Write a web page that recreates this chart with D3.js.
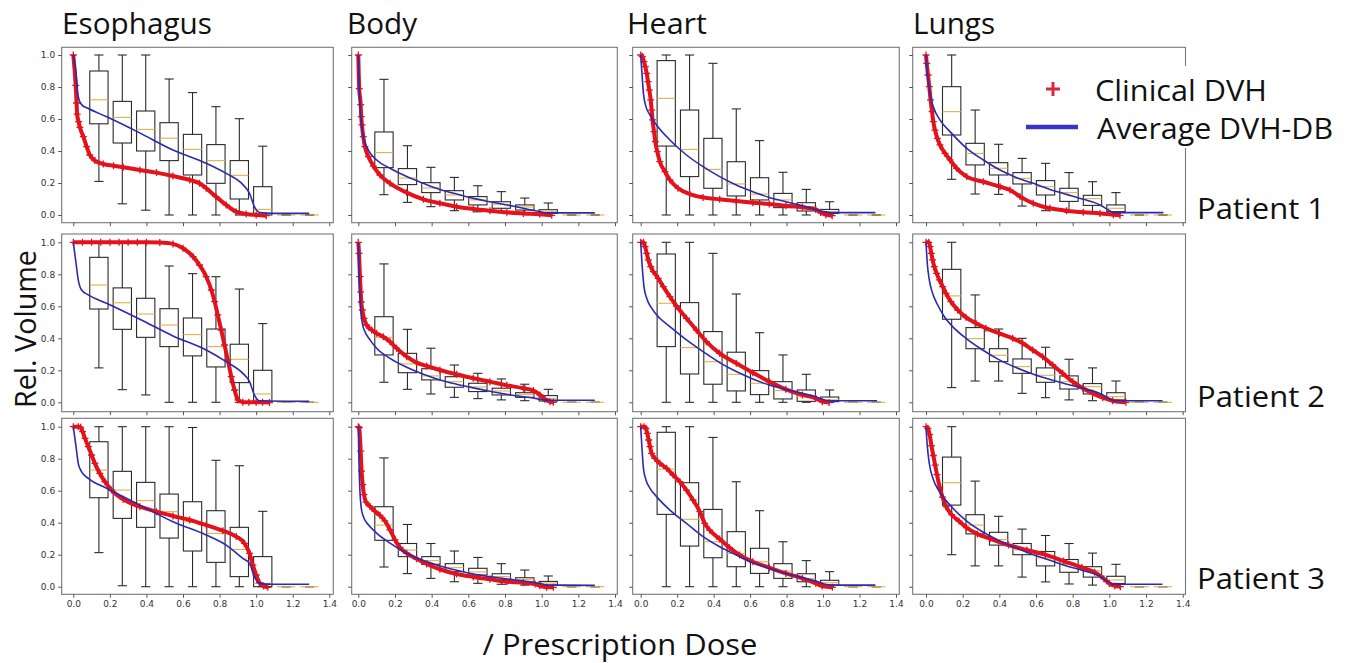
<!DOCTYPE html>
<html lang="en">
<head>
<meta charset="UTF-8">
<title>DVH comparison</title>
<script src="https://d3js.org/d3.v7.min.js"></script>
<style>
  body { margin: 0; background: #fff; }
  svg { display: block; }
  .tick text { font-family: "DejaVu Sans", sans-serif; font-size: 9px; fill: #333; }
  .tick line { stroke: #555; }
  .big { font-family: "Open Sans", sans-serif; font-size: 29px; fill: #111; }
</style>
</head>
<body>
<svg width="1352" height="663"></svg>
<script>
const organs = ["Esophagus", "Body", "Heart", "Lungs"];
const patients = ["Patient 1", "Patient 2", "Patient 3"];
const xTicks = [0, 0.2, 0.4, 0.6, 0.8, 1.0, 1.2, 1.4];
const yTicks = [0, 0.2, 0.4, 0.6, 0.8, 1.0];
const boxPositions = [0.14, 0.268, 0.396, 0.524, 0.652, 0.78, 0.908, 1.036, 1.164, 1.292];

// boxes: [low whisker, q1, median, q3, high whisker]
const esoP1Boxes = [[0.21,0.57,0.72,0.90,1.0],[0.07,0.45,0.61,0.71,1.0],[0.03,0.40,0.535,0.65,1.0],[0,0.34,0.48,0.577,0.85],[0,0.25,0.41,0.504,0.765],[0,0.198,0.34,0.44,0.677],[0,0.10,0.248,0.34,0.602],[0,0,0.035,0.177,0.43],[0,0,0,0,0],[0,0,0,0,0]];
const esoP1Avg = [[0,1],[0.015,0.885],[0.027,0.74],[0.045,0.69],[0.08,0.667],[0.18,0.615],[0.36,0.515],[0.545,0.406],[0.727,0.323],[0.836,0.26],[0.927,0.19],[0.964,0.135],[0.99,0.052],[1.02,0.015],[1.09,0.01],[1.29,0.01]];
const esoP1Clin = [[0,1.0],[0.013,0.81],[0.018,0.70],[0.021,0.63],[0.029,0.583],[0.036,0.548],[0.055,0.49],[0.073,0.427],[0.09,0.375],[0.118,0.34],[0.164,0.319],[0.22,0.308],[0.273,0.298],[0.364,0.281],[0.455,0.265],[0.545,0.244],[0.636,0.219],[0.69,0.198],[0.727,0.167],[0.78,0.115],[0.836,0.063],[0.89,0.021],[0.945,0.006],[1.0,0],[1.055,-0.004]];

const esoP2Boxes = [[0.215,0.583,0.733,0.906,1.0],[0.079,0.456,0.622,0.715,1.0],[0.046,0.406,0.552,0.65,1.0],[0,0.348,0.483,0.585,0.852],[0,0.29,0.423,0.527,0.804],[0,0.221,0.348,0.458,0.785],[0,0.123,0.269,0.363,0.708],[0,0,0.052,0.2,0.492],[0,0,0,0,0],[0,0,0,0,0]];
const esoP2Avg = [[0,1],[0.015,0.869],[0.027,0.765],[0.045,0.702],[0.082,0.671],[0.182,0.619],[0.364,0.519],[0.545,0.415],[0.727,0.327],[0.836,0.254],[0.927,0.181],[0.964,0.129],[0.99,0.046],[1.018,0.01],[1.29,0.006]];
const esoP2Clin = [[0,1],[0.05,1],[0.1,1],[0.15,1],[0.2,1],[0.25,1],[0.3,1],[0.35,1],[0.4,1],[0.473,0.998],[0.545,0.99],[0.6,0.963],[0.655,0.91],[0.69,0.858],[0.727,0.785],[0.755,0.702],[0.773,0.629],[0.79,0.546],[0.809,0.452],[0.827,0.358],[0.845,0.265],[0.864,0.16],[0.882,0.077],[0.9,0.015],[0.927,0],[0.96,0],[1.0,0],[1.035,0],[1.073,-0.002]];

const esoP3Boxes = [[0.213,0.556,0.729,0.906,1.0],[0.006,0.427,0.604,0.721,1.0],[0,0.371,0.538,0.652,1.0],[0,0.304,0.469,0.579,1.0],[0,0.223,0.406,0.531,0.995],[0,0.152,0.333,0.475,0.79],[0,0.063,0.233,0.371,0.756],[0,0,0.021,0.188,0.471],[0,0,0,0,0],[0,0,0,0,0]];
const esoP3Avg = [[0,1],[0.015,0.875],[0.027,0.771],[0.045,0.719],[0.082,0.677],[0.182,0.615],[0.364,0.51],[0.545,0.406],[0.727,0.323],[0.836,0.26],[0.927,0.177],[0.964,0.146],[0.99,0.063],[1.018,0.021],[1.09,0.015],[1.29,0.015]];
const esoP3Clin = [[0,1],[0.027,1],[0.04,0.996],[0.051,0.969],[0.064,0.927],[0.082,0.875],[0.1,0.823],[0.118,0.771],[0.145,0.708],[0.173,0.656],[0.209,0.604],[0.273,0.546],[0.364,0.5],[0.455,0.469],[0.545,0.442],[0.636,0.417],[0.727,0.385],[0.818,0.35],[0.891,0.313],[0.936,0.271],[0.964,0.208],[0.982,0.135],[1.0,0.073],[1.018,0.025],[1.04,0.004],[1.064,-0.004]];

const bodyP1Boxes = [[0.127,0.296,0.39,0.519,0.848],[0.079,0.19,0.231,0.29,0.433],[0.052,0.14,0.169,0.202,0.298],[0.027,0.094,0.125,0.152,0.235],[0.02,0.063,0.094,0.115,0.183],[0.015,0.042,0.067,0.083,0.146],[0.01,0.031,0.05,0.063,0.106],[0.006,0.01,0.02,0.033,0.075],[0,0,0,0,0],[0,0,0,0,0]];
const bodyP1Avg = [[0,1],[0.005,0.78],[0.013,0.615],[0.027,0.49],[0.055,0.406],[0.1,0.344],[0.173,0.292],[0.264,0.24],[0.355,0.198],[0.445,0.16],[0.536,0.131],[0.627,0.104],[0.718,0.083],[0.81,0.063],[0.9,0.042],[0.99,0.021],[1.027,0.013],[1.1,0.013],[1.29,0.013]];
const bodyP1Clin = [[0,1],[0.005,0.79],[0.013,0.69],[0.016,0.615],[0.02,0.563],[0.027,0.49],[0.036,0.427],[0.055,0.365],[0.082,0.306],[0.118,0.25],[0.173,0.198],[0.264,0.14],[0.355,0.098],[0.445,0.073],[0.536,0.052],[0.627,0.038],[0.718,0.027],[0.81,0.017],[0.9,0.01],[0.99,0.004],[1.055,-0.002]];

const bodyP2Boxes = [[0.125,0.296,0.406,0.535,0.865],[0.081,0.185,0.24,0.306,0.456],[0.052,0.14,0.165,0.21,0.338],[0.031,0.094,0.129,0.16,0.233],[0.023,0.067,0.096,0.119,0.181],[0.015,0.046,0.071,0.088,0.146],[0.01,0.031,0.048,0.06,0.113],[0.006,0.008,0.025,0.042,0.081],[0,0,0,0,0],[0,0,0,0,0]];
const bodyP2Avg = [[0,1],[0.005,0.765],[0.013,0.577],[0.022,0.494],[0.036,0.442],[0.064,0.39],[0.1,0.338],[0.173,0.275],[0.264,0.219],[0.355,0.175],[0.445,0.14],[0.536,0.113],[0.627,0.09],[0.718,0.069],[0.81,0.05],[0.9,0.035],[0.973,0.023],[1.009,0.015],[1.064,0.013],[1.29,0.013]];
const bodyP2Clin = [[0,1],[0.004,0.931],[0.009,0.785],[0.013,0.69],[0.016,0.627],[0.022,0.577],[0.031,0.525],[0.045,0.483],[0.073,0.452],[0.1,0.431],[0.136,0.41],[0.173,0.379],[0.209,0.338],[0.264,0.285],[0.318,0.248],[0.373,0.227],[0.445,0.202],[0.536,0.175],[0.627,0.15],[0.718,0.129],[0.81,0.106],[0.9,0.088],[0.955,0.073],[0.991,0.046],[1.018,0.019],[1.045,0.004],[1.064,0]];

const bodyP3Boxes = [[0.123,0.29,0.385,0.5,0.805],[0.082,0.188,0.229,0.27,0.389],[0.052,0.14,0.163,0.188,0.27],[0.031,0.094,0.119,0.144,0.223],[0.021,0.073,0.092,0.115,0.183],[0.015,0.046,0.063,0.081,0.144],[0.01,0.027,0.044,0.056,0.104],[0.006,0.01,0.023,0.033,0.067],[0,0,0,0,0],[0,0,0,0,0]];
const bodyP3Avg = [[0,1],[0.004,0.764],[0.009,0.596],[0.016,0.492],[0.027,0.44],[0.055,0.387],[0.1,0.335],[0.173,0.272],[0.264,0.209],[0.355,0.163],[0.445,0.13],[0.536,0.103],[0.627,0.079],[0.718,0.063],[0.81,0.048],[0.9,0.036],[0.99,0.021],[1.027,0.01],[1.1,0.01],[1.29,0.008]];
const bodyP3Clin = [[0,1],[0.005,0.994],[0.013,0.847],[0.018,0.722],[0.024,0.638],[0.031,0.575],[0.042,0.529],[0.064,0.502],[0.091,0.471],[0.118,0.446],[0.145,0.412],[0.173,0.356],[0.2,0.293],[0.227,0.245],[0.264,0.209],[0.318,0.174],[0.373,0.142],[0.445,0.109],[0.536,0.079],[0.627,0.061],[0.718,0.046],[0.81,0.031],[0.9,0.025],[0.964,0.017],[0.99,0.006],[1.027,-0.004],[1.064,-0.004]];

const heartP1Boxes = [[0,0.431,0.729,0.965,1.0],[0,0.24,0.41,0.656,1.0],[0,0.167,0.285,0.479,0.948],[0,0.119,0.194,0.333,0.663],[0,0.094,0.131,0.233,0.465],[0,0.046,0.094,0.135,0.267],[0,0.025,0.052,0.077,0.16],[0,0.01,0.019,0.035,0.083],[0,0,0,0,0],[0,0,0,0,0]];
const heartP1Avg = [[0,1],[0.007,0.885],[0.015,0.76],[0.029,0.677],[0.051,0.625],[0.087,0.563],[0.16,0.469],[0.251,0.375],[0.342,0.302],[0.433,0.24],[0.524,0.188],[0.615,0.146],[0.705,0.11],[0.796,0.083],[0.887,0.058],[0.96,0.035],[1.005,0.021],[1.05,0.015],[1.287,0.015]];
const heartP1Clin = [[0,1],[0.009,0.99],[0.018,0.958],[0.025,0.927],[0.033,0.885],[0.04,0.833],[0.047,0.781],[0.055,0.719],[0.06,0.656],[0.065,0.594],[0.073,0.521],[0.08,0.458],[0.091,0.396],[0.105,0.333],[0.133,0.271],[0.16,0.219],[0.205,0.167],[0.269,0.131],[0.342,0.11],[0.433,0.098],[0.524,0.088],[0.615,0.077],[0.705,0.069],[0.796,0.058],[0.887,0.048],[0.96,0.035],[0.987,0.015],[1.015,0.002],[1.05,-0.004]];

const heartP2Boxes = [[0,0.348,0.619,0.927,1.0],[0,0.177,0.342,0.623,1.0],[0,0.113,0.254,0.442,0.931],[0,0.071,0.175,0.313,0.677],[0,0.048,0.119,0.198,0.435],[0,0.021,0.073,0.129,0.296],[0,0.006,0.035,0.077,0.175],[0,0.004,0.015,0.033,0.077],[0,0,0,0,0],[0,0,0,0,0]];
const heartP2Avg = [[0,1],[0.007,0.869],[0.018,0.723],[0.033,0.65],[0.06,0.588],[0.105,0.525],[0.16,0.473],[0.251,0.39],[0.342,0.317],[0.433,0.248],[0.524,0.192],[0.615,0.146],[0.705,0.108],[0.796,0.081],[0.887,0.056],[0.96,0.035],[0.996,0.019],[1.033,0.01],[1.296,0.01]];
const heartP2Clin = [[0,1],[0.015,1],[0.024,0.973],[0.033,0.931],[0.042,0.89],[0.055,0.848],[0.069,0.817],[0.096,0.775],[0.124,0.723],[0.16,0.66],[0.196,0.602],[0.251,0.525],[0.305,0.452],[0.36,0.379],[0.433,0.306],[0.524,0.244],[0.615,0.185],[0.705,0.129],[0.796,0.081],[0.887,0.046],[0.96,0.025],[0.996,0.004],[1.033,-0.002]];

const heartP3Boxes = [[0,0.452,0.735,0.965,1.0],[0,0.254,0.421,0.65,1.0],[0,0.181,0.281,0.483,0.933],[0,0.125,0.208,0.344,0.656],[0,0.083,0.156,0.24,0.475],[0,0.052,0.098,0.144,0.281],[0,0.031,0.05,0.081,0.163],[0,0.01,0.025,0.04,0.094],[0,0,0,0,0],[0,0,0,0,0]];
const heartP3Avg = [[0,1],[0.007,0.865],[0.015,0.74],[0.029,0.667],[0.051,0.615],[0.087,0.563],[0.16,0.479],[0.251,0.396],[0.342,0.313],[0.433,0.25],[0.524,0.198],[0.615,0.15],[0.705,0.115],[0.796,0.083],[0.887,0.056],[0.96,0.035],[1.005,0.017],[1.05,0.01],[1.287,0.01]];
const heartP3Clin = [[0,1],[0.018,1],[0.029,0.99],[0.036,0.958],[0.044,0.917],[0.051,0.875],[0.06,0.833],[0.078,0.802],[0.105,0.771],[0.142,0.74],[0.178,0.698],[0.215,0.656],[0.251,0.604],[0.287,0.542],[0.324,0.469],[0.351,0.396],[0.378,0.354],[0.433,0.298],[0.487,0.244],[0.542,0.198],[0.615,0.156],[0.705,0.119],[0.796,0.083],[0.887,0.052],[0.96,0.021],[0.996,0.004],[1.051,-0.004]];

const lungsP1Boxes = [[0.223,0.5,0.646,0.802,1.0],[0.131,0.313,0.385,0.448,0.656],[0.129,0.25,0.292,0.327,0.442],[0.056,0.194,0.229,0.265,0.354],[0.027,0.125,0.177,0.215,0.323],[0.017,0.085,0.14,0.167,0.265],[0.01,0.06,0.102,0.123,0.208],[0.01,0.021,0.042,0.063,0.14],[0,0,0,0,0],[0,0,0,0,0]];
const lungsP1Avg = [[0,1],[0.007,0.885],[0.018,0.781],[0.04,0.677],[0.076,0.594],[0.131,0.521],[0.222,0.417],[0.313,0.344],[0.404,0.281],[0.495,0.233],[0.585,0.198],[0.676,0.16],[0.767,0.129],[0.858,0.098],[0.949,0.063],[0.995,0.031],[1.022,0.015],[1.295,0.015]];
const lungsP1Clin = [[0,1],[0.004,0.948],[0.011,0.875],[0.018,0.802],[0.025,0.719],[0.033,0.646],[0.04,0.583],[0.049,0.531],[0.062,0.479],[0.076,0.438],[0.104,0.385],[0.131,0.344],[0.167,0.292],[0.222,0.24],[0.313,0.208],[0.404,0.177],[0.458,0.156],[0.513,0.115],[0.585,0.073],[0.676,0.042],[0.767,0.027],[0.858,0.017],[0.949,0.01],[1.022,0.002],[1.058,-0.002]];

const lungsP2Boxes = [[0.092,0.519,0.665,0.831,1.0],[0.133,0.335,0.398,0.467,0.671],[0.133,0.254,0.294,0.335,0.458],[0.056,0.181,0.223,0.271,0.4],[0.029,0.125,0.169,0.215,0.344],[0.015,0.083,0.129,0.165,0.269],[0.01,0.052,0.098,0.117,0.215],[0.004,0.015,0.035,0.06,0.133],[0,0,0,0,0],[0,0,0,0,0]];
const lungsP2Avg = [[0,1],[0.007,0.869],[0.018,0.765],[0.036,0.681],[0.064,0.608],[0.1,0.535],[0.145,0.473],[0.218,0.4],[0.309,0.327],[0.4,0.265],[0.491,0.217],[0.582,0.177],[0.673,0.144],[0.764,0.115],[0.855,0.088],[0.945,0.056],[0.991,0.029],[1.027,0.01],[1.29,0.01]];
const lungsP2Clin = [[0,1],[0.015,1],[0.022,0.973],[0.029,0.931],[0.036,0.89],[0.045,0.848],[0.058,0.806],[0.073,0.765],[0.091,0.723],[0.109,0.681],[0.136,0.629],[0.173,0.577],[0.218,0.531],[0.273,0.494],[0.327,0.463],[0.4,0.431],[0.473,0.4],[0.527,0.369],[0.582,0.327],[0.636,0.285],[0.691,0.233],[0.745,0.181],[0.8,0.129],[0.855,0.088],[0.909,0.056],[0.964,0.029],[1.018,0.01],[1.09,0]];

const lungsP3Boxes = [[0.2,0.51,0.65,0.81,1.0],[0.13,0.33,0.385,0.45,0.66],[0.13,0.26,0.295,0.34,0.44],[0.06,0.2,0.23,0.27,0.36],[0.03,0.13,0.18,0.22,0.32],[0.017,0.09,0.14,0.17,0.27],[0.01,0.06,0.1,0.125,0.21],[0.01,0.02,0.042,0.065,0.14],[0,0,0,0,0],[0,0,0,0,0]];
const lungsP3Avg = [[0,1],[0.007,0.88],[0.018,0.77],[0.04,0.67],[0.076,0.59],[0.131,0.51],[0.222,0.41],[0.313,0.34],[0.404,0.285],[0.495,0.24],[0.585,0.2],[0.676,0.165],[0.767,0.13],[0.858,0.1],[0.949,0.065],[0.995,0.03],[1.022,0.015],[1.29,0.015]];
const lungsP3Clin = [[0,1],[0.01,0.99],[0.02,0.95],[0.03,0.88],[0.04,0.82],[0.05,0.76],[0.06,0.7],[0.075,0.62],[0.09,0.56],[0.11,0.5],[0.14,0.45],[0.18,0.41],[0.22,0.37],[0.28,0.33],[0.35,0.3],[0.45,0.26],[0.55,0.23],[0.65,0.2],[0.75,0.16],[0.85,0.12],[0.92,0.09],[0.97,0.05],[1.0,0.02],[1.03,0.005],[1.06,0]];

const panels = [
  [esoP1Boxes, esoP1Avg, esoP1Clin], [bodyP1Boxes, bodyP1Avg, bodyP1Clin], [heartP1Boxes, heartP1Avg, heartP1Clin], [lungsP1Boxes, lungsP1Avg, lungsP1Clin],
  [esoP2Boxes, esoP2Avg, esoP2Clin], [bodyP2Boxes, bodyP2Avg, bodyP2Clin], [heartP2Boxes, heartP2Avg, heartP2Clin], [lungsP2Boxes, lungsP2Avg, lungsP2Clin],
  [esoP3Boxes, esoP3Avg, esoP3Clin], [bodyP3Boxes, bodyP3Avg, bodyP3Clin], [heartP3Boxes, heartP3Avg, heartP3Clin], [lungsP3Boxes, lungsP3Avg, lungsP3Clin]
];

const svg = d3.select("svg");

// pixel layout of each column / row (x=0 and x=1.4, y=0 and y=1, plus frame)
const cols = [
  {x0: 73.3, x14: 329.3, left: 61.7, right: 333.3, title: 62, tw: 150},
  {x0: 358.3, x14: 615, left: 351.7, right: 617.3, title: 347, tw: 70},
  {x0: 640.7, x14: 896, left: 632.7, right: 899.3, title: 627, tw: 80},
  {x0: 926, x14: 1182.7, left: 912.7, right: 1185.5, title: 913, tw: 82}
];
const rows = [
  {y0: 215, y1: 55, top: 47.3, bottom: 222.7, label: 219},
  {y0: 402.3, y1: 242.3, top: 234, bottom: 411.7, label: 407},
  {y0: 586.7, y1: 426.7, top: 418.3, bottom: 594.3, label: 589}
];

const redColor = "#e3121b", blueColor = "#2a2ab4", medColor = "#e2b048";

panels.forEach((p, idx) => {
  const ci = idx % 4, ri = Math.floor(idx / 4);
  const c = cols[ci], r = rows[ri];
  const [boxes, avg, clin] = p;
  const x = d3.scaleLinear().domain([0, 1.4]).range([c.x0, c.x14]);
  const y = d3.scaleLinear().domain([0, 1]).range([r.y0, r.y1]);
  const g = svg.append("g");

  g.append("rect")
    .attr("x", c.left).attr("y", r.top)
    .attr("width", c.right - c.left).attr("height", r.bottom - r.top)
    .attr("fill", "none").attr("stroke", "#777").attr("stroke-width", 1.1);

  const yAxis = g.append("g").attr("transform", `translate(${c.left},0)`)
    .call(d3.axisLeft(y).tickValues(yTicks).tickSize(3.5).tickPadding(3)
      .tickFormat(ci === 0 ? d3.format(".1f") : () => ""));
  yAxis.select(".domain").remove();
  const xAxis = g.append("g").attr("transform", `translate(0,${r.bottom})`)
    .call(d3.axisBottom(x).tickValues(xTicks).tickSize(3.5).tickPadding(3)
      .tickFormat(ri === 2 ? d3.format(".1f") : () => ""));
  xAxis.select(".domain").remove();

  // box plots
  boxes.forEach((b, i) => {
    const pos = boxPositions[i];
    const [lo, q1, med, q3, hi] = b;
    const xl = x(pos - 0.05), xr = x(pos + 0.05), xm = x(pos);
    const cl = x(pos - 0.025), cr = x(pos + 0.025);
    const bg = g.append("g").attr("stroke", "#2a2a2a").attr("stroke-width", 1.1).attr("fill", "none");
    bg.append("line").attr("x1", xm).attr("x2", xm).attr("y1", y(q3)).attr("y2", y(hi));
    bg.append("line").attr("x1", xm).attr("x2", xm).attr("y1", y(q1)).attr("y2", y(lo));
    bg.append("line").attr("x1", cl).attr("x2", cr).attr("y1", y(hi)).attr("y2", y(hi));
    bg.append("line").attr("x1", cl).attr("x2", cr).attr("y1", y(lo)).attr("y2", y(lo));
    bg.append("rect").attr("x", xl).attr("y", y(q3)).attr("width", xr - xl).attr("height", y(q1) - y(q3));
    g.append("line").attr("x1", xl).attr("x2", xr).attr("y1", y(med)).attr("y2", y(med))
      .attr("stroke", medColor).attr("stroke-width", 1.1);
  });

  // clinical DVH
  const line = d3.line().x(d => x(d[0])).y(d => y(d[1])).curve(d3.curveMonotoneX);
  g.append("path").attr("d", line(clin)).attr("fill", "none")
    .attr("stroke", redColor).attr("stroke-width", 4).attr("stroke-linejoin", "round");
  g.selectAll(null).data(clin).join("path")
    .attr("transform", d => `translate(${x(d[0])},${y(d[1])})`)
    .attr("d", "M-3.5,0H3.5M0,-3.5V3.5")
    .attr("stroke", redColor).attr("stroke-width", 1.3);

  // average DVH-DB
  g.append("path").attr("d", line(avg)).attr("fill", "none")
    .attr("stroke", blueColor).attr("stroke-width", 1.6);
});

function bigText(sel, len) {
  return sel.attr("class", "big").attr("textLength", len).attr("lengthAdjust", "spacingAndGlyphs");
}

// titles
organs.forEach((o, i) => {
  bigText(svg.append("text"), cols[i].tw).attr("x", cols[i].title).attr("y", 34).text(o);
});
patients.forEach((p, i) => {
  bigText(svg.append("text"), 128).attr("x", 1197).attr("y", rows[i].label).text(p);
});
bigText(svg.append("text"), 158)
  .attr("transform", "translate(36,329) rotate(-90)")
  .attr("text-anchor", "middle").text("Rel. Volume");
bigText(svg.append("text"), 275)
  .attr("x", 620).attr("y", 655).attr("text-anchor", "middle").text("/ Prescription Dose");

// legend
const leg = svg.append("g");
leg.append("rect").attr("x", 1018).attr("y", 66).attr("width", 330).attr("height", 82).attr("fill", "#fff");
leg.append("path").attr("d", "M1046,89H1060M1053,82V96").attr("stroke", "#d42a3a").attr("stroke-width", 3);
leg.append("line").attr("x1", 1026).attr("x2", 1078).attr("y1", 127).attr("y2", 127)
  .attr("stroke", "#3434c6").attr("stroke-width", 4.5);
bigText(leg.append("text"), 172).attr("x", 1095).attr("y", 101).text("Clinical DVH");
bigText(leg.append("text"), 236).attr("x", 1097).attr("y", 139).text("Average DVH-DB");
</script>
</body>
</html>
